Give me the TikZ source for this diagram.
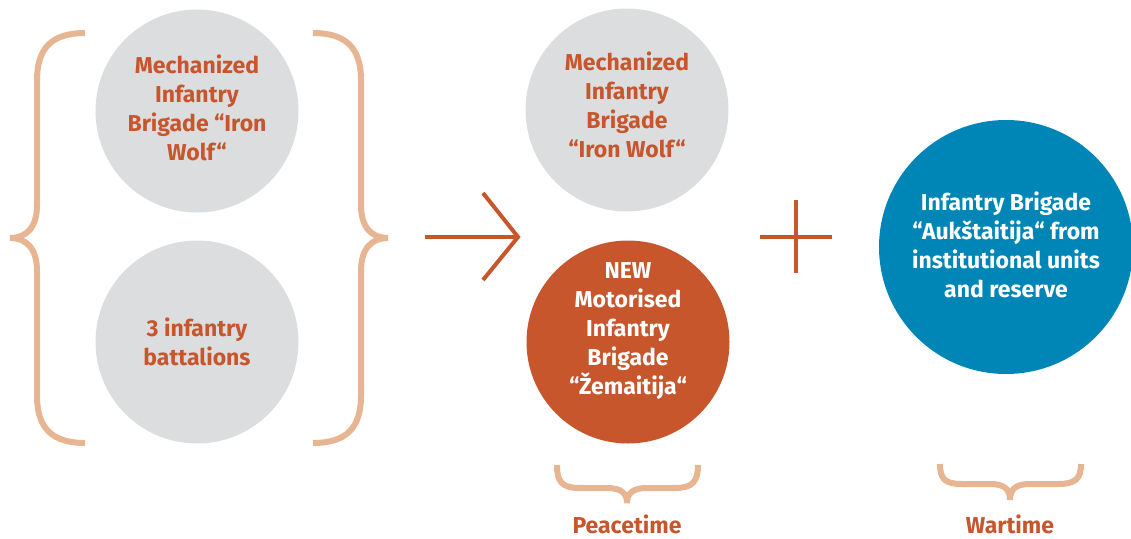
\documentclass[tikz,border=0pt]{standalone}
\usepackage{fontspec}
\setmainfont{Fira Sans}
\definecolor{brigGray}{HTML}{DCDDDF}
\definecolor{brigOrange}{HTML}{C8562C}
\definecolor{brigBlue}{HTML}{0086B6}
\definecolor{braceTan}{HTML}{E8B593}
\begin{document}
\begin{tikzpicture}[x=1pt,y=-1pt,
	disc/.style = {circle,inner sep=0pt,minimum size=203pt},
	txt/.style = {align=center,font=\fontsize{23}{29}\selectfont\bfseries},
	curly/.style = {draw=braceTan,line width=6pt},
	sign/.style = {draw=brigOrange,line width=4pt}
	]
	\useasboundingbox (0,0) rectangle (1131,538);
	%CERCHI
	\node[disc,fill=brigGray] (iwOld) at (197,111) {};
	\node[disc,fill=brigGray] (bat) at (197,342) {};
	\node[disc,fill=brigGray] (iwNew) at (627,110) {};
	\node[disc,fill=brigOrange] (zem) at (628,342) {};
	\node[disc,fill=brigBlue,minimum size=254pt] (auk) at (1006,247) {};
	%TESTI
	\node[txt,text=brigOrange] (iwOldTxt) at ([yshift=3pt]iwOld.center) {Mechanized\\Infantry\\Brigade “Iron\\Wolf“};
	\node[txt,text=brigOrange] (batTxt) at (bat.center) {3 infantry\\battalions};
	\node[txt,text=brigOrange] (iwNewTxt) at ([yshift=5pt]iwNew.center) {Mechanized\\Infantry\\Brigade\\“Iron Wolf“};
	\node[txt,text=white] (zemTxt) at ([yshift=11pt]zem.center) {NEW\\Motorised\\Infantry\\Brigade\\“Žemaitija“};
	\node[txt,text=white] (aukTxt) at ([yshift=2pt]auk.center) {Infantry Brigade\\“Aukštaitija“ from\\institutional units\\and reserve};
	%PARENTESI
	\draw[curly] (85,33) .. controls (52,33) and (37,48) .. (37,80) -- (37,205)
		.. controls (37,228) and (26,238) .. (10,238)
		.. controls (26,238) and (37,248) .. (37,271) -- (37,396)
		.. controls (37,428) and (52,443) .. (85,443);
	\draw[curly] (313,33) .. controls (346,33) and (361,48) .. (361,80) -- (361,205)
		.. controls (361,228) and (372,238) .. (388,238)
		.. controls (372,238) and (361,248) .. (361,271) -- (361,396)
		.. controls (361,428) and (346,443) .. (313,443);
	\draw[curly] (557,465) .. controls (557,482) and (562,488) .. (580,488) -- (607,488)
		.. controls (621,488) and (627,493) .. (627,503)
		.. controls (627,493) and (633,488) .. (647,488) -- (675,488)
		.. controls (692,488) and (698,482) .. (698,465);
	\draw[curly] (940,464) .. controls (940,479) and (945,484) .. (962,484) -- (990,484)
		.. controls (1004,484) and (1010,489) .. (1010,500)
		.. controls (1010,489) and (1016,484) .. (1030,484) -- (1058,484)
		.. controls (1075,484) and (1081,479) .. (1081,464);
	%FRECCIA E PIU
	\coordinate (arrS) at (425,237);
	\coordinate (arrE) at (518,237);
	\draw[sign] (arrS) -- (arrE);
	\draw[sign] (483,193) -- (arrE) -- (483,280);
	\draw[sign] (760,237) -- (832,237);
	\draw[sign] (796,200) -- (796,273);
	%ETICHETTE
	\node[txt,text=brigOrange] (peace) at (627,524) {Peacetime};
	\node[txt,text=brigOrange] (war) at (1010,524) {Wartime};
\end{tikzpicture}
\end{document}
